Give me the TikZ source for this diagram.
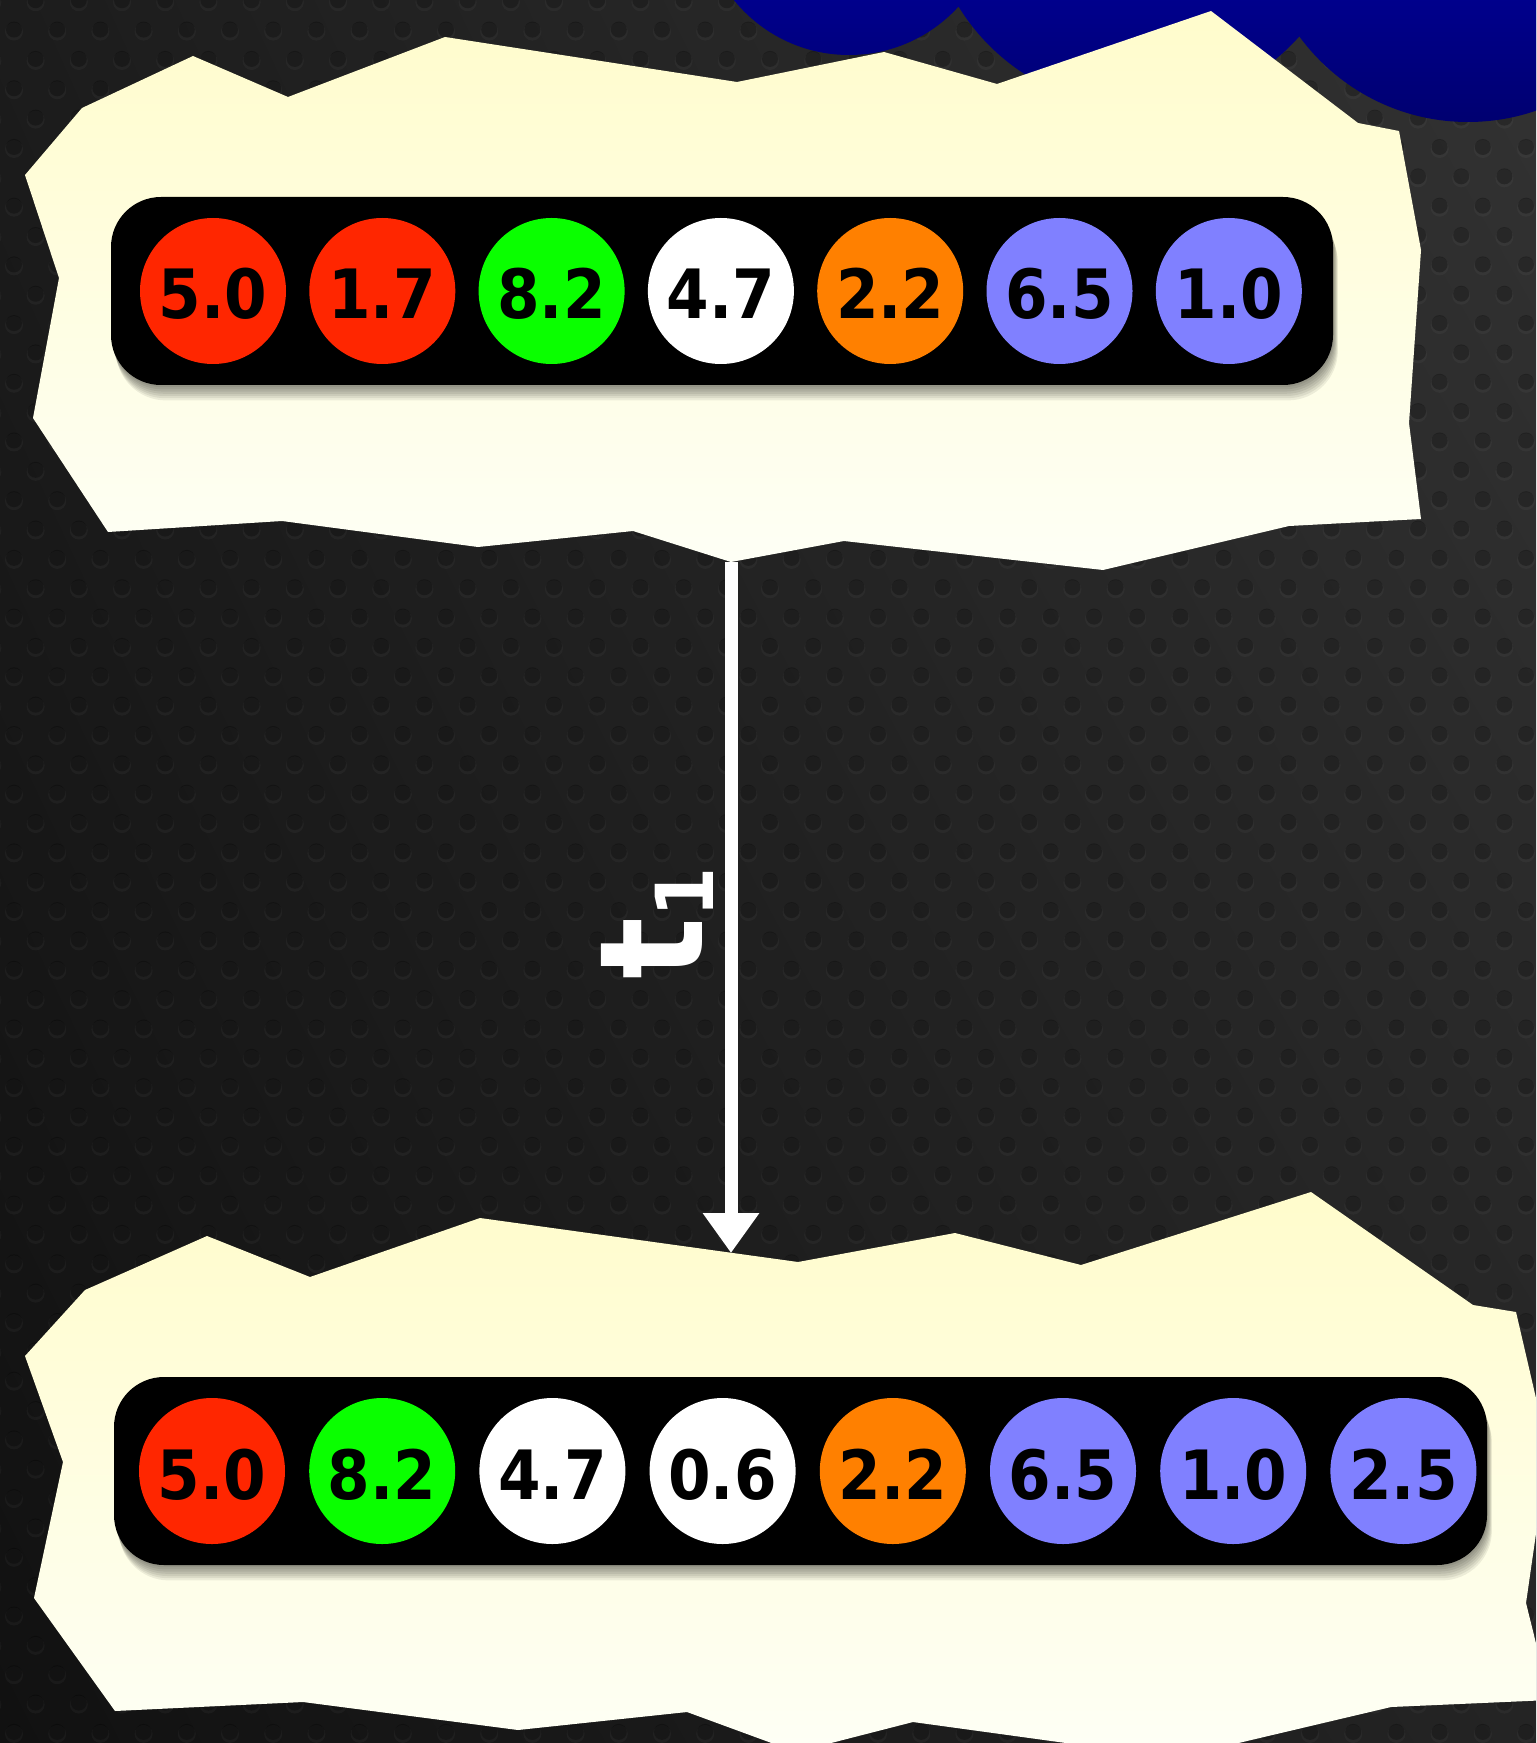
\documentclass[tikz,border=0pt]{standalone}
\usepackage{fontspec}
\newfontfamily\ballfont{DejaVu Sans}[FakeStretch=0.9]
\usetikzlibrary{arrows.meta,shadings}
\definecolor{bgUL}{RGB}{28,28,28}
\definecolor{bgUR}{RGB}{50,50,50}
\definecolor{bgLL}{RGB}{17,17,17}
\definecolor{bgLR}{RGB}{36,36,36}
\definecolor{ballred}{RGB}{255,38,0}
\definecolor{ballgreen}{RGB}{10,255,0}
\definecolor{ballorange}{RGB}{255,128,0}
\definecolor{ballblue}{RGB}{128,128,255}
\definecolor{papertop}{RGB}{255,252,204}
\definecolor{paperbot}{RGB}{254,255,246}
\definecolor{cloudtop}{RGB}{0,0,142}
\definecolor{cloudbot}{RGB}{0,0,108}
\begin{document}
\begin{tikzpicture}[x=0.5pt,y=-0.5pt,
  ball/.style={circle, minimum size=73pt, inner sep=0pt, text=black,
    text height=28pt, text depth=0pt,
    font=\ballfont\bfseries\fontsize{34}{34}\selectfont},
  barbox/.style={fill=black, rounded corners=25pt},
  barshadow/.style={fill=black, opacity=0.07, rounded corners=25pt},
  paper/.style={top color=papertop, bottom color=paperbot},
  link/.style={draw=white, line width=6.5pt, -{Triangle[width=27pt,length=20pt]}},
  tlabel/.style={rotate=90, anchor=base west, inner sep=0pt, text=white,
    font=\ballfont\bfseries\fontsize{72}{72}\selectfont}]
\path[use as bounding box, clip] (0,0) rectangle (1536,1743);
% background
\shade[upper left=bgUL, upper right=bgUR, lower left=bgLL, lower right=bgLR] (0,0) rectangle (1536,1743);
\foreach \r in {0,...,60}{
  \pgfmathsetmacro{\yy}{0.25+29.35*\r}
  \pgfmathsetmacro{\off}{mod(\r,2)==1 ? 14 : 35.6}
  \foreach \c in {-1,...,36}{
    \pgfmathsetmacro{\xx}{\off+43.2*\c}
    \fill[white, opacity=0.035] (\xx,\yy+2) circle[radius=9];
    \fill[black, opacity=0.28] (\xx,\yy) circle[radius=8];
  }
}
% cloud
\begin{scope}
  \clip (849,-93) circle[radius=148] (1140,-105) circle[radius=213] (1468,-87) circle[radius=209];
  \shade[top color=cloudtop, bottom color=cloudbot] (600,-10) rectangle (1540,140);
\end{scope}
% papers
\shade[paper] (25,175) -- (82,108) -- (193,56) -- (288,97) -- (445,37) -- (737,82)
  -- (884,52) -- (997,84) -- (1211,11) -- (1358,123) -- (1399,131) -- (1421,250)
  -- (1409,423) -- (1421,519) -- (1289,526) -- (1103,570) -- (844,541) -- (731,562)
  -- (633,531) -- (478,547) -- (282,521) -- (108,532) -- (33,418) -- (59,278) -- cycle;
\shade[paper] (25,1356) -- (85,1290) -- (207,1236) -- (310,1277) -- (480,1218)
  -- (798,1262) -- (955,1233) -- (1081,1265) -- (1311,1192) -- (1473,1305)
  -- (1516,1312) -- (1548,1450) -- (1526,1603) -- (1550,1700) -- (1391,1707)
  -- (1175,1758) -- (913,1722) -- (796,1752) -- (687,1712) -- (518,1730)
  -- (303,1702) -- (115,1711) -- (34,1598) -- (63,1462) -- cycle;
% bars with soft shadows
\foreach \k in {1,...,7}{
  \fill[barshadow] (111+0.7*\k,197+2.2*\k) rectangle (1333+0.7*\k,385+2.2*\k);
  \fill[barshadow] (114+0.7*\k,1377+2.2*\k) rectangle (1487+0.7*\k,1565+2.2*\k);
}
\fill[barbox] (111,197) rectangle (1333,385);
\fill[barbox] (114,1377) rectangle (1487,1565);
% top row
\foreach \v/\c [count=\i from 0] in {5.0/ballred,1.7/ballred,8.2/ballgreen,4.7/white,2.2/ballorange,6.5/ballblue,1.0/ballblue}
  \node[ball, fill=\c] (u\i) at ({213+169.3*\i},291) {\v};
% bottom row
\foreach \v/\c [count=\i from 0] in {5.0/ballred,8.2/ballgreen,4.7/white,0.6/white,2.2/ballorange,6.5/ballblue,1.0/ballblue,2.5/ballblue}
  \node[ball, fill=\c] (d\i) at ({212+170.2*\i},1471) {\v};
% connector
\coordinate (src) at (731,562);
\coordinate (dst) at (731,1253);
\draw[link] (src) -- (dst);
\node[tlabel] (lbl) at (702,980) {t\raisebox{-5.5pt}{\fontsize{40}{40}\selectfont 1}};
\end{tikzpicture}
\end{document}
